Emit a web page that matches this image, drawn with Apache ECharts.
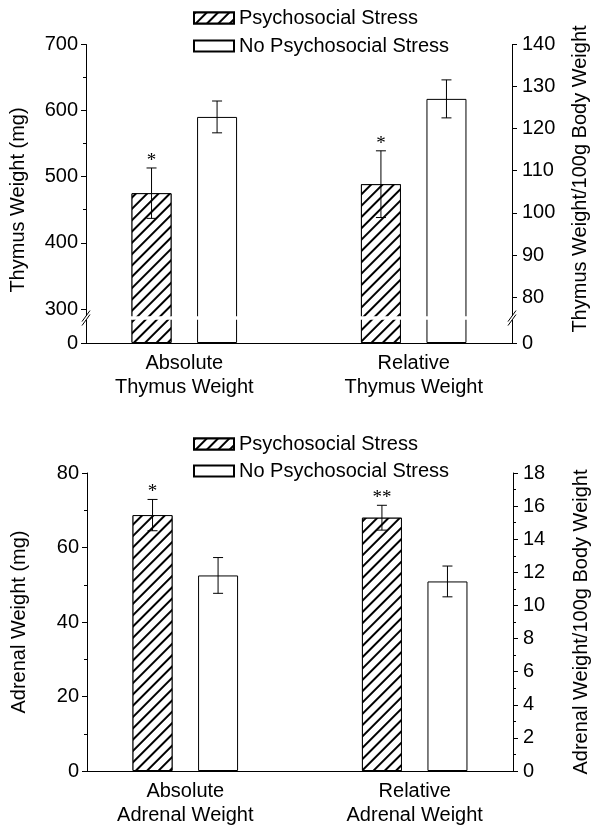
<!DOCTYPE html>
<html><head><meta charset="utf-8">
<script src="https://cdn.jsdelivr.net/npm/echarts@6/dist/echarts.min.js"></script>
<style>html,body{margin:0;background:#fff}#c{width:600px;height:831px}</style>
</head><body><div id="c"></div>
<script>
const seriesNames = ['Psychosocial Stress', 'No Psychosocial Stress'];
const thymusGroups = ['Absolute\nThymus Weight', 'Relative\nThymus Weight'];
const adrenalGroups = ['Absolute\nAdrenal Weight', 'Relative\nAdrenal Weight'];
// index 0 = absolute (left axis), index 1 = relative (right axis)
const thymusStress = [475, 106.8];
const thymusStressErr = [38, 7.9];
const thymusNoStress = [590, 127];
const thymusNoStressErr = [24, 4.5];
const thymusSig = ['*', '*'];
const adrenalStress = [68.7, 15.3];
const adrenalStressErr = [4.2, 0.75];
const adrenalNoStress = [52.5, 11.45];
const adrenalNoStressErr = [4.8, 0.93];
const adrenalSig = ['*', '**'];
const thymusAxisNames = ['Thymus Weight (mg)', 'Thymus Weight/100g Body Weight'];
const adrenalAxisNames = ['Adrenal Weight (mg)', 'Adrenal Weight/100g Body Weight'];
// tick values of the broken thymus axes
const thymusLeftTicks = [0, 300, 400, 500, 600, 700];
const thymusRightTicks = [0, 80, 90, 100, 110, 120, 130, 140];
// axis breaks of the thymus panel [start, end, gap]
const thymusLeftBreak = [35.7, 288.6, 3.9];
const thymusRightBreak = [5.6, 75.4, 0.62];

const FONT = 'Liberation Sans';
const SLOTS = 14;
const center = i => 3 + 7 * i;

function cats(groups) {
  const a = new Array(SLOTS).fill('');
  groups.forEach((g, i) => { a[center(i)] = g; });
  return a;
}
const hatch = { symbol: 'rect', symbolSize: 1, dashArrayX: [1, 0], dashArrayY: [1.2, 6], rotation: -Math.PI / 4, color: '#000', backgroundColor: '#fff' };

function barSeries(name, values, grid, side, offset, decal) {
  const data = new Array(SLOTS).fill(null);
  data[center(side) + offset] = values[side];
  return {
    type: 'bar', name, xAxisIndex: grid, yAxisIndex: grid * 2 + side,
    data, barWidth: 40, barGap: '-100%',
    itemStyle: Object.assign({ color: '#fff', borderColor: '#000', borderWidth: 1 }, decal ? { decal } : {}),
    emphasis: { disabled: true }, z: 2
  };
}
function errSeries(grid, side, a, ae, b, be, sig) {
  const data = [[center(side) - 1, a[side], ae[side], 1], [center(side) + 1, b[side], be[side], 0]];
  return {
    type: 'custom', xAxisIndex: grid, yAxisIndex: grid * 2 + side, z: 5,
    data,
    renderItem(params, api) {
      const x = api.value(0), m = api.value(1), e = api.value(2), hasSig = api.value(3);
      const t = api.coord([x, m + e]), b2 = api.coord([x, m - e]);
      const h = 5;
      const ls = { stroke: '#000', lineWidth: 1 };
      const ch = [
        { type: 'line', shape: { x1: t[0], y1: t[1], x2: b2[0], y2: b2[1] }, style: ls },
        { type: 'line', shape: { x1: t[0] - h, y1: t[1], x2: t[0] + h, y2: t[1] }, style: ls },
        { type: 'line', shape: { x1: b2[0] - h, y1: b2[1], x2: b2[0] + h, y2: b2[1] }, style: ls }
      ];
      if (hasSig) ch.push({ type: 'text', style: { text: sig[side], x: t[0], y: t[1] - 7, align: 'center', verticalAlign: 'middle', font: '19px "Liberation Serif"', fill: '#000' } });
      return { type: 'group', children: ch };
    }
  };
}
// "//" break symbol on an axis line, positioned at the break through the axis scale
function breakMarkSeries(grid, side, brk) {
  return {
    type: 'custom', xAxisIndex: grid, yAxisIndex: grid * 2 + side, z: 120, silent: true,
    data: [[0, brk[0], brk[1]]],
    renderItem(params, api) {
      const cs = params.coordSys;
      const x = side ? cs.x + cs.width : cs.x;
      const y = (api.coord([0, api.value(1)])[1] + api.coord([0, api.value(2)])[1]) / 2;
      const ls = { stroke: '#000', lineWidth: 1 };
      const d = 2;
      return { type: 'group', children: [
        { type: 'rect', shape: { x: x - 3, y: y - d, width: 6, height: 2 * d }, style: { fill: '#fff' } },
        { type: 'line', shape: { x1: x - 4, y1: y - d + 5.5, x2: x + 4, y2: y - d - 5.5 }, style: ls },
        { type: 'line', shape: { x1: x - 4, y1: y + d + 5.5, x2: x + 4, y2: y + d - 5.5 }, style: ls }
      ] };
    }
  };
}
function yAxis(grid, side, max, interval, minorSplit, name, brk, pad, ticks) {
  const ax = {
    type: 'value', gridIndex: grid, position: side ? 'right' : 'left',
    min: 0, max, interval,
    name, nameLocation: 'middle', nameRotate: 90, nameGap: 58,
    nameTextStyle: { fontSize: 20, color: '#000', fontFamily: FONT, padding: pad || 0 },
    axisLine: { show: true, lineStyle: { color: '#000', width: 1 } },
    axisTick: { show: true, length: 5, lineStyle: { color: '#000' } },
    minorTick: { show: minorSplit > 0, splitNumber: minorSplit || 2, length: 3, lineStyle: { color: '#000' } },
    axisLabel: {
      fontSize: 20, color: '#000', fontFamily: FONT, margin: side ? 10 : 8, showMinLabel: true,
      formatter: v => (Math.abs(v / interval - Math.round(v / interval)) < 1e-6 ? String(v) : '')
    },
    splitLine: { show: false }
  };
  if (ticks) {
    ax.axisLabel.customValues = ticks;
    ax.axisTick.customValues = ticks;
  }
  if (brk) {
    ax.breaks = [{ start: brk[0], end: brk[1], gap: brk[2] }];
    ax.breakArea = { show: true, expandOnClick: false, zigzagAmplitude: 0, zigzagZ: 100, itemStyle: { color: '#fff', borderColor: '#fff', borderWidth: 0, opacity: 1 } };
    ax.breakLabelLayout = { moveOverlap: false };
  }
  return ax;
}
function xAxis(grid, groups) {
  return {
    type: 'category', gridIndex: grid, data: cats(groups), boundaryGap: false,
    axisLine: { lineStyle: { color: '#000', width: 1 } }, axisTick: { show: false },
    axisLabel: { interval: 0, fontSize: 20, color: '#000', fontFamily: FONT, margin: 8, lineHeight: 24 }
  };
}
function legend(top, gap) {
  return {
    data: seriesNames, top, left: 188, orient: 'vertical', itemWidth: 40, itemHeight: 11, itemGap: gap,
    selectedMode: false, icon: 'rect', textStyle: { fontSize: 20, color: '#000', fontFamily: FONT }
  };
}

const option = {
  animation: false,
  textStyle: { fontFamily: FONT },
  legend: [legend(3, 8), legend(429, 7)],
  grid: [
    { left: 86, right: 88, top: 44, height: 299, outerBoundsMode: 'none', containLabel: false },
    { left: 87, right: 87, top: 473, height: 298, outerBoundsMode: 'none', containLabel: false }
  ],
  xAxis: [xAxis(0, thymusGroups), xAxis(1, adrenalGroups)],
  yAxis: [
    yAxis(0, 0, 700, 100, 2, thymusAxisNames[0], thymusLeftBreak, [0, 13, 0, 0], thymusLeftTicks),
    yAxis(0, 1, 140, 10, 0, thymusAxisNames[1], thymusRightBreak, [0, 0, 0, 29], thymusRightTicks),
    yAxis(1, 0, 80, 20, 2, adrenalAxisNames[0]),
    yAxis(1, 1, 18, 2, 2, adrenalAxisNames[1])
  ],
  series: [
    barSeries(seriesNames[0], thymusStress, 0, 0, -1, hatch),
    barSeries(seriesNames[1], thymusNoStress, 0, 0, 1),
    barSeries(seriesNames[0], thymusStress, 0, 1, -1, hatch),
    barSeries(seriesNames[1], thymusNoStress, 0, 1, 1),
    errSeries(0, 0, thymusStress, thymusStressErr, thymusNoStress, thymusNoStressErr, thymusSig),
    errSeries(0, 1, thymusStress, thymusStressErr, thymusNoStress, thymusNoStressErr, thymusSig),
    breakMarkSeries(0, 0, thymusLeftBreak),
    breakMarkSeries(0, 1, thymusRightBreak),
    barSeries(seriesNames[0], adrenalStress, 1, 0, -1, hatch),
    barSeries(seriesNames[1], adrenalNoStress, 1, 0, 1),
    barSeries(seriesNames[0], adrenalStress, 1, 1, -1, hatch),
    barSeries(seriesNames[1], adrenalNoStress, 1, 1, 1),
    errSeries(1, 0, adrenalStress, adrenalStressErr, adrenalNoStress, adrenalNoStressErr, adrenalSig),
    errSeries(1, 1, adrenalStress, adrenalStressErr, adrenalNoStress, adrenalNoStressErr, adrenalSig)
  ]
};
const chart = echarts.init(document.getElementById('c'), null, { renderer: 'canvas' });
chart.setOption(option);
</script></body></html>
